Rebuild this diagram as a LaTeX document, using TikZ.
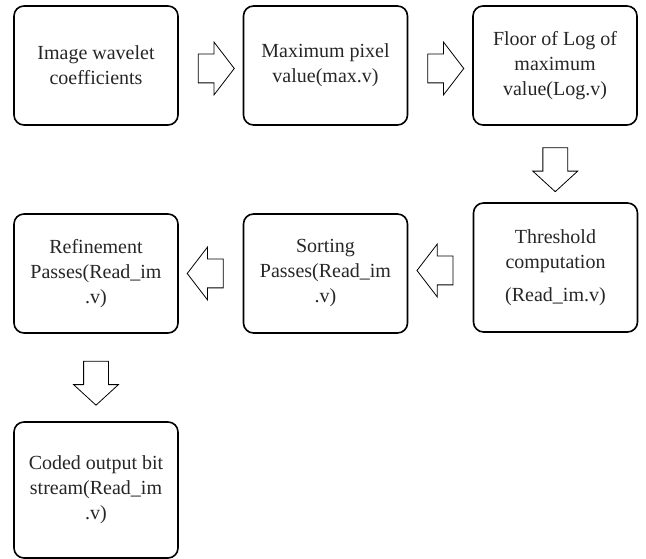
\documentclass[tikz,border=0pt]{standalone}
\usepackage{fontspec}
\setmainfont{Liberation Serif}
\usetikzlibrary{shapes.arrows,calc}

\begin{document}
\begin{tikzpicture}[x=1pt,y=1pt]
\tikzstyle{every node}=[font=\fontsize{20}{25}\selectfont, text=black!85]
\tikzstyle{box}=[draw, line width=1.6pt, rounded corners=10pt, align=center, minimum width=164pt, minimum height=119pt, inner sep=2pt]
\tikzstyle{harrow}=[draw, line width=0.8pt, single arrow, single arrow head extend=12pt, single arrow tip angle=105, minimum height=36pt, inner xsep=1pt, inner ysep=14pt]
\tikzstyle{varrow}=[harrow, single arrow head extend=10pt, single arrow tip angle=95, minimum height=44pt, inner ysep=12pt, rotate=-90]
\useasboundingbox (0,0) rectangle (646,559);
\draw (96,493.5) node (b1) [box] {Image wavelet\\coefficients};
\draw (325.5,493.5) node (b2) [box] {Maximum pixel\\value(max.v)};
\draw (555,493.5) node (b3) [box] {Floor of Log of\\maximum\\value(Log.v)};
\draw (555.5,291.5) node (b6) [box, minimum height=129pt] {Threshold\\computation\\[8pt](Read\_im.v)};
\draw (325.5,285.5) node (b5) [box] {Sorting\\Passes(Read\_im\\.v)};
\draw (96,285.5) node (b4) [box] {Refinement\\Passes(Read\_im\\.v)};
\draw (96,69) node (b7) [box, minimum height=136pt] {Coded output bit\\stream(Read\_im\\.v)};
\draw ($(b1.east)!.5!(b2.west)$) ++(0,-3) node (a1) [harrow] {};
\draw ($(b2.east)!.5!(b3.west)$) ++(0,-3) node (a2) [harrow] {};
\draw ($(b3.south)!.5!(b6.north)$) node (a3) [varrow] {};
\draw ($(b6.west)!.5!(b5.east)$) node (a4) [harrow, shape border rotate=180] {};
\draw ($(b5.west)!.5!(b4.east)$) node (a5) [harrow, shape border rotate=180] {};
\draw ($(b4.south)!.5!(b7.north)$) node (a6) [varrow] {};
\end{tikzpicture}
\end{document}
